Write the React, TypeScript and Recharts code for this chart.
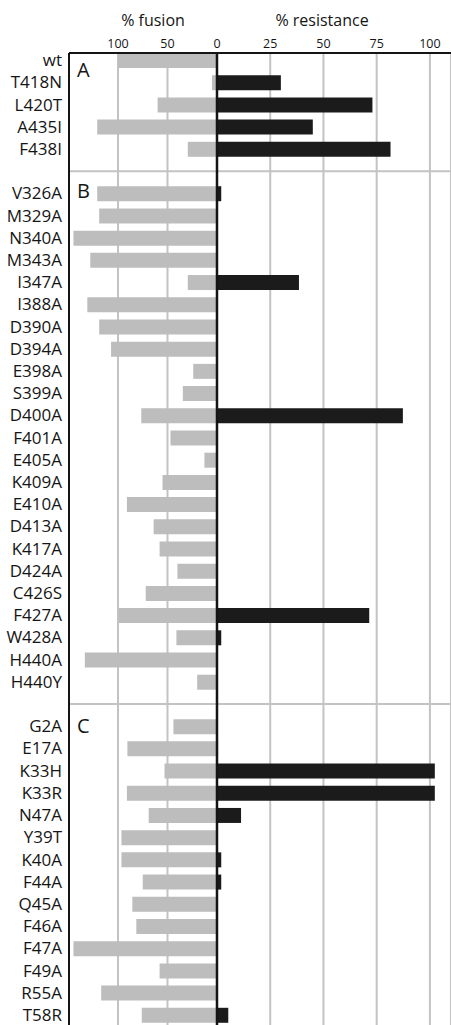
import {
  Bar,
  BarChart,
  CartesianGrid,
  ReferenceLine,
  XAxis,
  YAxis,
} from 'recharts'

// panel A
const panelA = ['wt', 'T418N', 'L420T', 'A435I', 'F438I']
const fusionA = [100, 5, 60, 121, 29.5]
const resistanceA = [0, 30, 73, 45, 81.5]

// panel B
const panelB = [
  'V326A', 'M329A', 'N340A', 'M343A', 'I347A', 'I388A', 'D390A', 'D394A',
  'E398A', 'S399A', 'D400A', 'F401A', 'E405A', 'K409A', 'E410A', 'D413A',
  'K417A', 'D424A', 'C426S', 'F427A', 'W428A', 'H440A', 'H440Y',
]
const fusionB = [
  121, 119, 145, 128, 29.5, 131, 119, 107, 24, 34.5, 76.5, 47, 12.7, 55, 91, 64,
  58, 40, 72, 99, 41, 133.5, 20,
]
const resistanceB = [
  2, 0, 0, 0, 38.5, 0, 0, 0, 0, 0, 87.3, 0, 0, 0, 0, 0, 0, 0, 0, 71.5, 2, 0, 0,
]

// panel C
const panelC = [
  'G2A', 'E17A', 'K33H', 'K33R', 'N47A', 'Y39T', 'K40A', 'F44A', 'Q45A',
  'F46A', 'F47A', 'F49A', 'R55A', 'T58R',
]
const fusionC = [44, 90.5, 53, 91, 69, 96.5, 96.5, 75, 85.5, 81.5, 145, 58, 117, 76]
const resistanceC = [0, 0.5, 102.3, 102.3, 11.3, 0, 2, 2, 0, 0, 0, 0, 0, 5.3]

const fusionTicks = [100, 50, 0]
const resistanceTicks = [25, 50, 75, 100]

const GAP_AB = ' '
const GAP_BC = '  '

function rows(names: string[], fusion: number[], resistance: number[]) {
  return names.map((name, i) => ({
    name,
    fusion: -fusion[i],
    resistance: resistance[i],
  }))
}

const data = [
  ...rows(panelA, fusionA, resistanceA),
  { name: GAP_AB, fusion: null, resistance: null },
  ...rows(panelB, fusionB, resistanceB),
  { name: GAP_BC, fusion: null, resistance: null },
  ...rows(panelC, fusionC, resistanceC),
]

const FONT = '"Open Sans", sans-serif'
const GRID = '#c3c3c3'
const INK = '#151515'

const letterStyle = {
  position: 'absolute' as const,
  left: 77,
  fontSize: 20,
  lineHeight: '20px',
  color: INK,
}

const titleStyle = {
  position: 'absolute' as const,
  top: 12,
  width: 140,
  textAlign: 'center' as const,
  fontSize: 16,
  lineHeight: '16px',
  color: INK,
}

export default function App() {
  return (
    <div
      style={{
        position: 'absolute',
        left: 0,
        top: 0,
        width: 451,
        height: 1025,
        overflow: 'hidden',
        background: '#fff',
        fontFamily: FONT,
      }}
    >
      <BarChart
        width={451}
        height={1026}
        data={data}
        layout="vertical"
        margin={{ top: 51, right: 0, bottom: 0, left: 0 }}
        barSize={15}
        barGap={-15}
      >
        <CartesianGrid xAxisId="fusion" horizontal={false} stroke={GRID} strokeWidth={2} />
        <CartesianGrid xAxisId="res" horizontal={false} stroke={GRID} strokeWidth={2} />
        <XAxis
          xAxisId="fusion"
          type="number"
          orientation="top"
          height={1}
          domain={[-149.5, 236.4]}
          allowDataOverflow
          ticks={fusionTicks.map((v) => -v)}
          tickFormatter={(v: number) => String(Math.abs(v))}
          interval={0}
          tickLine={false}
          tickSize={0}
          tickMargin={5}
          axisLine={{ stroke: INK, strokeWidth: 2 }}
          tick={{ fontSize: 12.5, fill: INK, fontFamily: FONT }}
        />
        <XAxis
          xAxisId="res"
          type="number"
          orientation="top"
          height={1}
          domain={[-69.5, 109.9]}
          allowDataOverflow
          ticks={resistanceTicks}
          interval={0}
          tickLine={false}
          tickSize={0}
          tickMargin={4}
          axisLine={false}
          tick={{ fontSize: 12.5, fill: INK, fontFamily: FONT }}
        />
        <YAxis
          type="category"
          dataKey="name"
          width={69}
          interval={0}
          padding={{ top: -4, bottom: 0 }}
          tickLine={false}
          tickSize={0}
          tickMargin={7}
          axisLine={{ stroke: INK, strokeWidth: 2 }}
          tick={{ fontSize: 17, fill: INK, fontFamily: FONT }}
        />
        <Bar xAxisId="fusion" dataKey="fusion" fill="#bdbdbd" isAnimationActive={false} />
        <Bar xAxisId="res" dataKey="resistance" fill="#1b1b1b" isAnimationActive={false} />
        <ReferenceLine xAxisId="fusion" y={GAP_AB} stroke={GRID} strokeWidth={2} />
        <ReferenceLine xAxisId="fusion" y={GAP_BC} stroke={GRID} strokeWidth={2} />
        <ReferenceLine xAxisId="fusion" x={0} stroke={INK} strokeWidth={2.5} />
      </BarChart>
      <div style={{ ...titleStyle, left: 153 - 70 }}>% fusion</div>
      <div style={{ ...titleStyle, left: 322 - 70 }}>% resistance</div>
      <div style={{ ...letterStyle, top: 60 }}>A</div>
      <div style={{ ...letterStyle, top: 181 }}>B</div>
      <div style={{ ...letterStyle, top: 716 }}>C</div>
    </div>
  )
}
